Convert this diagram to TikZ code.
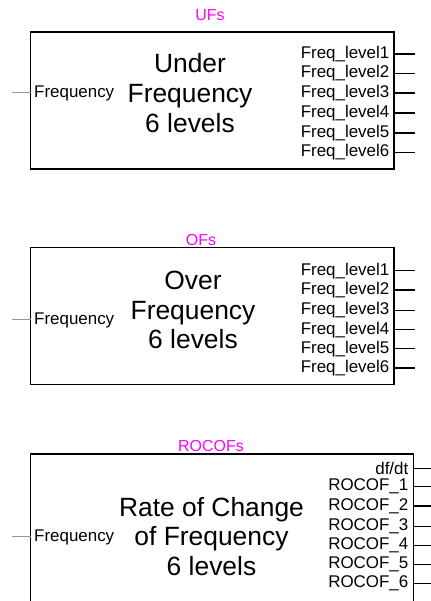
\documentclass[tikz,border=0pt]{standalone}
\usepackage{fontspec}
\setmainfont{Liberation Sans}
\definecolor{mag}{RGB}{255,0,255}
\definecolor{wire}{RGB}{150,150,150}
\begin{document}
\begin{tikzpicture}[x=1bp,y=-1bp,
  blk/.style={draw=black,line width=1.5bp,fill=none},
  ttl/.style={text=mag,font=\fontsize{16}{16}\selectfont,inner sep=0pt},
  big/.style={font=\fontsize{26.5}{30}\selectfont,align=center,inner sep=0pt},
  port/.style={font=\fontsize{17}{17}\selectfont,inner sep=0pt},
  outw/.style={draw=black,line width=1.2bp},
  inw/.style={draw=wire,line width=1bp}]
\useasboundingbox (0,0) rectangle (430,601);
% ---------- block 1 ----------
\node[ttl] (t1) at (210,15) {UFs};
\draw[blk] (30.5,32) rectangle (394,169);
\coordinate (b1in) at (30.5,92.7);
\coordinate (s1) at (11.5,92.7);
\draw[inw] (s1) -- (b1in);
\node[port,anchor=west] (f1) at (34,93) {Frequency};
\node[big] (m1) at (190,93) {Under\\Frequency\\6 levels};
\foreach \i/\y in {1/54,2/73.5,3/93,4/113,5/133,6/152.5}{
  \node[port,anchor=east] (u\i) at (389.5,\y) {Freq\_level\i};
  \coordinate (ue\i) at (415,\y);
  \draw[outw] (394,\y) -- (ue\i);
}
% ---------- block 2 ----------
\draw[blk] (30.5,247.3) rectangle (394,384.7);
\node[ttl,fill=white,inner sep=0.5pt] (t2) at (201,240.5) {OFs};
\coordinate (b2in) at (30.5,319.3);
\coordinate (s2) at (11.5,319.3);
\draw[inw] (s2) -- (b2in);
\node[port,anchor=west] (f2) at (34,320) {Frequency};
\node[big] (m2) at (193,310) {Over\\Frequency\\6 levels};
\foreach \i/\y in {1/270.7,2/290,3/310.3,4/329.7,5/348.7,6/368}{
  \node[port,anchor=east] (o\i) at (389.5,\y) {Freq\_level\i};
  \coordinate (oe\i) at (415,\y);
  \draw[outw] (394,\y) -- (oe\i);
}
% ---------- block 3 ----------
\node[ttl] (t3) at (211,446.5) {ROCOFs};
\draw[blk] (30.5,620) -- (30.5,454) -- (413.3,454) -- (413.3,620);
\coordinate (b3in) at (30.5,536);
\coordinate (s3) at (11.5,536);
\draw[inw] (s3) -- (b3in);
\node[port,anchor=west] (f3) at (34,537) {Frequency};
\node[big] (m3) at (211.5,536.5) {Rate of Change\\of Frequency\\6 levels};
\node[port,anchor=east] (r0) at (408.5,468.3) {df/dt};
\coordinate (re0) at (432,468.3);
\draw[outw] (413.3,468.3) -- (re0);
\foreach \i/\y in {1/486.7,2/506,3/526.7,4/545.7,5/564.7,6/583.7}{
  \node[port,anchor=east] (r\i) at (408.5,\y) {ROCOF\_\i};
  \coordinate (re\i) at (432,\y);
  \draw[outw] (413.3,\y) -- (re\i);
}
\end{tikzpicture}
\end{document}
